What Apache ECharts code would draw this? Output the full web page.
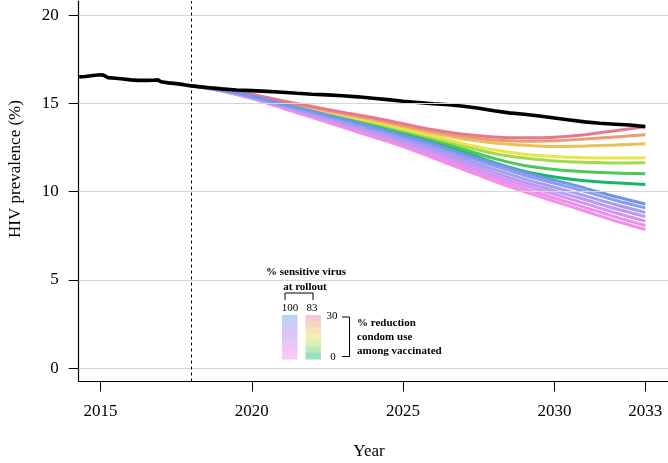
<!DOCTYPE html>
<html>
<head>
<meta charset="utf-8">
<script src="https://cdn.jsdelivr.net/npm/echarts@6/dist/echarts.min.js"></script>
<style>
html,body{margin:0;padding:0;background:#fff;}
#chart{width:668px;height:463px;}
</style>
</head>
<body>
<div id="chart"></div>
<script>
// ---------- DATA ----------
const xTicks = [2015, 2020, 2025, 2030, 2033];
const yTicks = [0, 5, 10, 15, 20];
const rolloutYear = 2018;

const blackX = [2014.3,2014.5,2014.75,2015.0,2015.1,2015.25,2015.5,2015.75,2016.0,2016.25,2016.5,2016.75,2016.9,2017.0,2017.25,2017.5,2017.75,2018.0,2018.5,2019.0,2019.5,2020.0,2020.5,2021.0,2021.5,2022.0,2022.5,2023.0,2023.5,2024.0,2024.5,2025.0,2025.5,2026.0,2026.5,2027.0,2027.5,2028.0,2028.5,2029.0,2029.5,2030.0,2030.5,2031.0,2031.5,2032.0,2032.5,2033.0];
const blackY = [16.50,16.52,16.58,16.62,16.60,16.46,16.42,16.38,16.33,16.30,16.30,16.31,16.33,16.22,16.16,16.12,16.06,15.99,15.90,15.82,15.76,15.72,15.68,15.63,15.57,15.52,15.48,15.43,15.37,15.29,15.21,15.12,15.05,14.98,14.92,14.84,14.72,14.58,14.46,14.38,14.28,14.17,14.06,13.95,13.87,13.82,13.77,13.68];

const years = [2018,2019,2020,2021,2022,2023,2024,2025,2026,2027,2028,2029,2030,2031,2032,2033];

// 83% sensitive virus at rollout; % reduction in condom use 30 -> 0
const s83_r30 = [16.0,15.82,15.52,15.15,14.82,14.50,14.20,13.85,13.50,13.25,13.10,13.05,13.08,13.22,13.45,13.69];
const s83_r25 = [16.0,15.81,15.50,15.12,14.78,14.45,14.13,13.76,13.40,13.12,12.92,12.86,12.88,12.98,13.10,13.22];
const s83_r20 = [16.0,15.81,15.49,15.10,14.74,14.40,14.06,13.68,13.30,12.98,12.76,12.62,12.55,12.58,12.64,12.71];
const s83_r15 = [16.0,15.80,15.47,15.07,14.70,14.34,13.97,13.56,13.14,12.72,12.37,12.12,11.99,11.92,11.90,11.92];
const s83_r10 = [16.0,15.80,15.46,15.05,14.67,14.30,13.92,13.48,13.04,12.58,12.16,11.90,11.74,11.66,11.62,11.63];
const s83_r5  = [16.0,15.79,15.45,15.03,14.63,14.25,13.85,13.40,12.94,12.40,11.88,11.48,11.25,11.13,11.05,11.01];
const s83_r0  = [16.0,15.79,15.44,15.01,14.60,14.20,13.78,13.30,12.82,12.26,11.65,11.15,10.83,10.62,10.50,10.40];

// 100% sensitive virus at rollout; % reduction in condom use 30 -> 0
const s100_r30 = [16.0,15.77,15.42,14.98,14.55,14.13,13.68,13.20,12.72,12.15,11.62,11.10,10.65,10.20,9.72,9.30];
const s100_r25 = [16.0,15.76,15.40,14.94,14.50,14.06,13.59,13.10,12.60,12.02,11.46,10.93,10.47,10.01,9.51,9.08];
const s100_r20 = [16.0,15.75,15.37,14.90,14.43,13.97,13.49,12.99,12.45,11.86,11.27,10.72,10.25,9.77,9.27,8.82];
const s100_r15 = [16.0,15.74,15.35,14.86,14.38,13.89,13.39,12.88,12.30,11.70,11.09,10.53,10.05,9.55,9.04,8.58];
const s100_r10 = [16.0,15.72,15.32,14.82,14.32,13.81,13.29,12.76,12.16,11.54,10.92,10.35,9.85,9.33,8.80,8.33];
const s100_r5  = [16.0,15.71,15.30,14.78,14.26,13.73,13.19,12.65,12.03,11.39,10.76,10.17,9.64,9.11,8.57,8.08];
const s100_r0  = [16.0,15.70,15.27,14.74,14.20,13.65,13.10,12.55,11.90,11.25,10.60,10.00,9.45,8.90,8.35,7.85];

// ---------- BUILD ----------
const FONT = '"Liberation Serif", "Times New Roman", serif';
const pairs = (xs, ys) => xs.map((x, i) => [x, ys[i]]);

const groupA = [
  {name: '83% / 0%',  data: s83_r0,  color: '#12b866'},
  {name: '83% / 5%',  data: s83_r5,  color: '#4cc75c'},
  {name: '83% / 10%', data: s83_r10, color: '#a2da4c'},
  {name: '83% / 15%', data: s83_r15, color: '#e6e64a'},
  {name: '83% / 20%', data: s83_r20, color: '#ebbf5a'},
  {name: '83% / 25%', data: s83_r25, color: '#eb9c70'},
  {name: '83% / 30%', data: s83_r30, color: '#e87890'}
];
const groupB = [
  {name: '100% / 0%',  data: s100_r0,  color: '#f78de6'},
  {name: '100% / 5%',  data: s100_r5,  color: '#e890ec'},
  {name: '100% / 10%', data: s100_r10, color: '#d294ef'},
  {name: '100% / 15%', data: s100_r15, color: '#bc98f0'},
  {name: '100% / 20%', data: s100_r20, color: '#a69cf0'},
  {name: '100% / 25%', data: s100_r25, color: '#8c9cef'},
  {name: '100% / 30%', data: s100_r30, color: '#6e98e6'}
];

const series = [];
// gridlines + rollout line
series.push({
  type: 'line', data: [], silent: true,
  markLine: {
    silent: true, symbol: ['none', 'none'], label: {show: false},
    animation: false,
    data: yTicks.map(v => ({yAxis: v, lineStyle: {color: '#d6d6d6', width: 1, type: 'solid'}}))
      .concat([{xAxis: rolloutYear, lineStyle: {color: '#000', width: 1, type: [3, 3]}}])
  }
});
groupA.concat(groupB).forEach(s => {
  series.push({
    type: 'line', name: s.name, data: pairs(years, s.data),
    symbol: 'none', smooth: 0.3, animation: false,
    lineStyle: {color: s.color, width: 3}
  });
});
series.push({
  type: 'line', name: 'Baseline', data: pairs(blackX, blackY),
  symbol: 'none', animation: false,
  lineStyle: {color: '#000', width: 3.6}
});

// legend graphics
const pale100 = ['#c2d2f4','#c9cdf5','#d2c9f6','#ddc7f6','#e8c7f6','#f2c7f5','#fac9f3'];
const pale83  = ['#f6c9d0','#f6d6c4','#f6e3bc','#f4f0b4','#dcf0b4','#b9e8bc','#98e0c4'];
const legendTop = 315, legendBottom = 359;
const step = (legendBottom - legendTop) / 7;
const graphics = [];
pale100.forEach((c, i) => graphics.push({type: 'rect', shape: {x: 282, y: legendTop + i * step, width: 15.5, height: step + 0.5}, style: {fill: c}, silent: true}));
pale83.forEach((c, i) => graphics.push({type: 'rect', shape: {x: 305.5, y: legendTop + i * step, width: 15.5, height: step + 0.5}, style: {fill: c}, silent: true}));
const txt = (x, y, text, opts) => Object.assign({type: 'text', x, y, silent: true,
  style: Object.assign({text, fill: '#000', font: '11px ' + FONT, textAlign: 'left', textVerticalAlign: 'middle'}, opts || {})});
graphics.push(txt(306, 272.5, '% sensitive virus', {font: 'bold 11px ' + FONT, textAlign: 'center'}));
graphics.push(txt(305, 287.5, 'at rollout', {font: 'bold 11px ' + FONT, textAlign: 'center'}));
graphics.push({type: 'polyline', shape: {points: [[285, 300], [285, 293], [313, 293], [313, 300]]}, style: {stroke: '#000', lineWidth: 1, fill: null}, silent: true});
graphics.push(txt(290, 308, '100', {textAlign: 'center'}));
graphics.push(txt(312, 308, '83', {textAlign: 'center'}));
graphics.push(txt(332, 316, '30', {textAlign: 'center'}));
graphics.push(txt(333, 357, '0', {textAlign: 'center'}));
graphics.push({type: 'polyline', shape: {points: [[342, 317], [349.5, 317], [349.5, 356.5], [342, 356.5]]}, style: {stroke: '#000', lineWidth: 1, fill: null}, silent: true});
graphics.push(txt(357, 323, '% reduction', {font: 'bold 11px ' + FONT}));
graphics.push(txt(357, 337, 'condom use', {font: 'bold 11px ' + FONT}));
graphics.push(txt(357, 351, 'among vaccinated', {font: 'bold 11px ' + FONT}));
// axis titles
graphics.push(txt(369, 452, 'Year', {font: '17px ' + FONT, textAlign: 'center'}));
graphics.push({type: 'text', x: 16, y: 169, rotation: Math.PI / 2, silent: true,
  style: {text: 'HIV prevalence (%)', fill: '#000', font: '17px ' + FONT, textAlign: 'center', textVerticalAlign: 'middle'}});

const chart = echarts.init(document.getElementById('chart'), null, {renderer: 'canvas'});
chart.setOption({
  animation: false,
  backgroundColor: '#fff',
  grid: {left: 78.7, right: 0, top: 1, bottom: 81.5, containLabel: false},
  xAxis: {
    type: 'value', min: 2014.283, max: 2033.75,
    axisLine: {show: true, onZero: false, lineStyle: {color: '#000', width: 1.2}},
    axisTick: {show: true, customValues: xTicks, length: 10, lineStyle: {color: '#000', width: 1}},
    axisLabel: {show: true, customValues: xTicks, margin: 22, color: '#000', fontFamily: FONT, fontSize: 17, formatter: v => String(v)},
    splitLine: {show: false}
  },
  yAxis: {
    type: 'value', min: -0.76, max: 20.8,
    axisLine: {show: true, onZero: false, lineStyle: {color: '#000', width: 1.2}},
    axisTick: {show: true, customValues: yTicks, length: 10, lineStyle: {color: '#000', width: 1}},
    axisLabel: {show: true, customValues: yTicks, margin: 20, color: '#000', fontFamily: FONT, fontSize: 17, formatter: v => String(v)},
    splitLine: {show: false}
  },
  series: series,
  graphic: graphics
});
</script>
</body>
</html>
